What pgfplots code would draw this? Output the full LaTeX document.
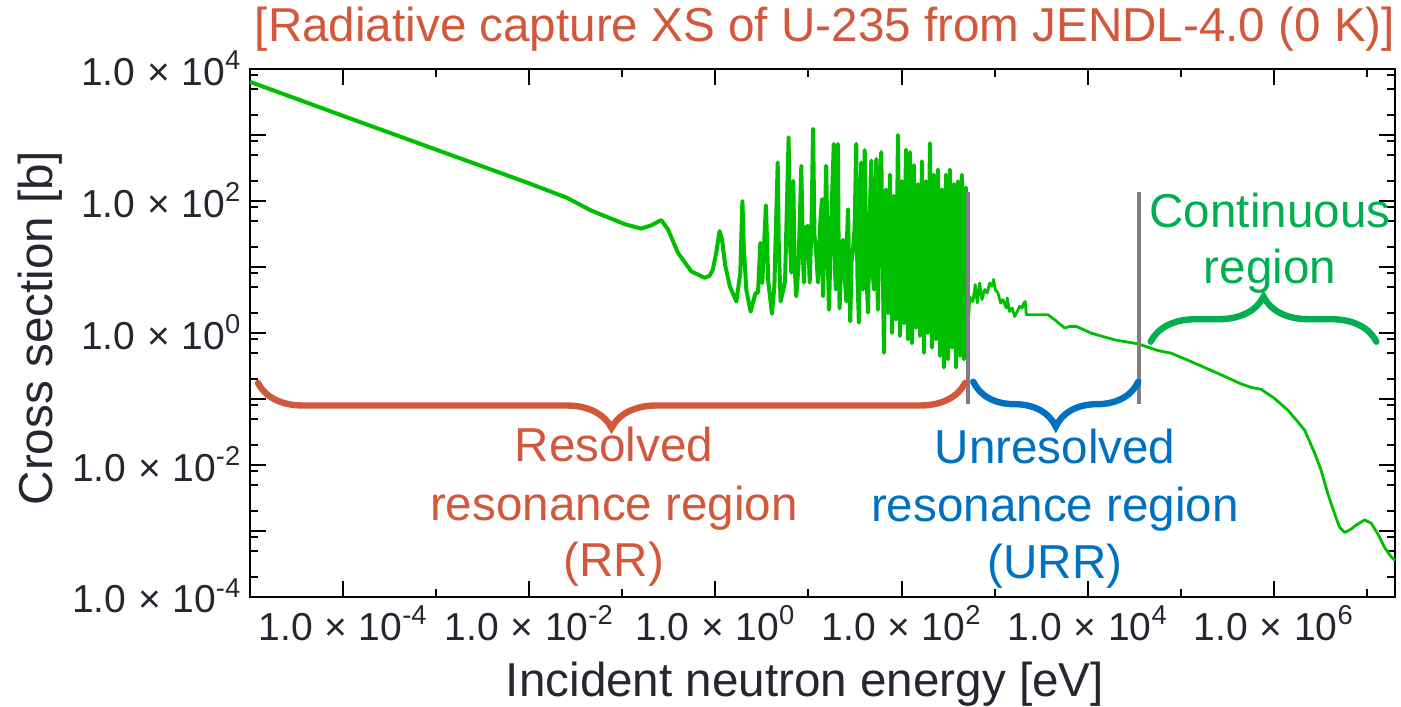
\documentclass[border=0pt]{standalone}
\usepackage{fontspec}
\setmainfont{Liberation Sans}
\usepackage{pgfplots}
\pgfplotsset{compat=1.18}
\usetikzlibrary{decorations.pathreplacing}

\definecolor{rrred}{RGB}{210,88,60}
\definecolor{urrblue}{RGB}{0,112,192}
\definecolor{contgreen}{RGB}{0,176,80}
\definecolor{xsgreen}{RGB}{0,190,0}
\definecolor{txt}{RGB}{38,38,48}

\newcommand{\lab}[1]{1.0\hspace{0.3em}×\hspace{0.3em}10\textsuperscript{#1}}
\newcommand{\bigfont}{\fontsize{23.8}{28}\selectfont}

\begin{document}
\begin{tikzpicture}
\begin{axis}[
  name=ax,
  xmode=log, ymode=log,
  scale only axis, width=572.5pt, height=264pt,
  xmin=1e-5, xmax=2e7, ymin=1e-4, ymax=1e4,
  clip=false,
  xtick={1e-4,1e-2,1,1e2,1e4,1e6},
  xticklabels={\lab{-4},\lab{-2},\lab{0},\lab{2},\lab{4},\lab{6}},
  minor xtick={1e-3,1e-1,10,1e3,1e5,1e7},
  ytick={1e-4,1e-3,1e-2,1e-1,1,10,100,1000,10000},
  yticklabels={\lab{-4},,\lab{-2},,\lab{0},,\lab{2},,\lab{4}},
  minor ytick={2e-4,5e-4,8e-4,2e-3,5e-3,8e-3,0.02,0.05,0.08,0.2,0.5,0.8,2,5,8,20,50,80,200,500,800,2000,5000,8000},
  major tick length=8pt, minor tick length=4pt,
  every tick/.style={black, line width=1pt},
  axis line style={line width=1.3pt},
  tick label style={font=\fontsize{19.5}{20}\selectfont, text=txt, inner sep=0pt},
  xticklabel style={anchor=base, yshift=-21.5pt},
  yticklabel style={anchor=base east, xshift=-4.2pt, yshift=-8pt},
  xlabel={Incident neutron energy [eV]},
  xlabel style={at={(axis description cs:0.4847,-0.1880)}, anchor=base, font=\bigfont, text=txt, inner sep=0pt},
  ylabel={Cross section [b]},
  ylabel style={at={(axis description cs:-0.1721,0.5095)}, anchor=base, font=\bigfont, text=txt, inner sep=0pt},
  title={[Radiative capture XS of U-235 from JENDL-4.0 (0 K)]},
  title style={at={(axis description cs:0.5022,1.0290)}, anchor=base, font=\bigfont, text=rrred, inner sep=0pt},
]

% resolved resonance region
\addplot[xsgreen, line width=2pt, line join=round] coordinates {
(1e-5,6400) (1e-4,1950) (1e-3,600) (1e-2,185) (0.0253,112) (0.046,72)
(0.107,44.4) (0.159,38.2) (0.205,42.8) (0.262,51.5) (0.31,37) (0.396,16.4)
(0.551,8.6) (0.767,6.85) (0.869,7.4) (0.94,9.2) (1.02,16.4) (1.11,35)
(1.18,26) (1.27,10.9) (1.43,5.1) (1.68,3.0) (1.85,8) (1.95,100) (2.02,20)
(2.15,4.5) (2.39,2.1) (2.55,3.0) (2.69,4.0) (2.87,4.1) (3.04,23.3) (3.19,5.7)
(3.49,86) (3.7,6) (4.05,1.96) (4.3,5) (4.67,385) (4.8,20) (5.02,3.0) (5.6,6)
(6.12,927) (6.3,30) (6.54,8.2) (6.87,202) (7.1,10) (7.4,3.6) (7.8,10)
(8.38,342) (8.7,15) (8.95,5.8) (9.3,40) (9.88,41.8) (10.3,5.8) (10.8,50)
(11.2,1240) (11.6,30) (12.05,18.5) (12.65,5.8) (13.3,40) (13.96,107) (14.3,3.6)
(14.9,30) (15.5,342) (16.0,20) (16.6,2.25) (17.5,40) (18.7,733) (19.2,10)
(19.7,4.55) (20.2,60) (20.7,733) (21.1,15) (21.6,2.35) (22.5,12) (23.5,26)
(24.4,8) (25.5,3.0) (26.0,30) (26.6,75) (27.3,10) (28.1,1.5) (29.0,12)
(30.1,18.5) (31.3,40) (32.6,733) (33.5,8) (34.8,1.43) (35.8,30) (36.9,385)
(37.7,20) (38.5,4.55) (39.3,100) (40.2,590) (41.7,10) (43.6,2.03) (45.3,50)
(47.3,410) (48.9,8) (50.6,4.55) (52.0,60) (53.5,433) (54.5,10) (55.7,2.25)
(58.0,120) (60.5,550)
(64.7,0.5) (68.0,150) (71.4,2.0) (75.1,250) (78.9,1.0) (82.9,120) (87.1,1.6)
(91.5,1000) (96.1,0.9) (101,200) (106.1,1.4) (111.5,600) (117.2,0.8)
(123.1,550) (129.3,0.7) (135.9,350) (142.8,1.2) (150.1,180) (157.6,0.9)
(165.6,400) (174.0,0.5) (182.9,200) (192.1,1.0) (201.9,750) (212.1,0.6)
(222.8,250) (234.2,0.8) (246.0,300) (258.5,0.45) (271.6,150) (285.4,0.3)
(299.9,250) (315.1,0.4) (331.1,300) (347.8,0.6) (365.5,180) (384.0,0.3)
(403.5,200) (424.0,0.45) (445.5,250) (468.1,0.4) (491.7,160) (505,0.6)
};

% unresolved resonance and continuous regions
\addplot[xsgreen, line width=1.4pt, line join=round] coordinates {
(505,0.6) (540,3.5) (585,3.0) (619,5.4) (650,2.85) (690,5.7) (731,3.2) (781,4.55)
(833,4.05) (883,5.7) (935,5.1) (975,6.45) (1014,4.55) (1084,4.05) (1160,2.85)
(1228,3.2) (1333,2.39) (1366,3.4) (1449,2.12) (1545,2.39) (1640,1.78)
(1750,2.12) (1857,2.53) (1965,2.39) (2065,2.85) (2132,3.0) (2186,1.89)
(3735,1.89) (4410,1.59) (5650,1.19) (6400,1.26) (7530,1.26) (10900,0.995)
(19450,0.787) (34600,0.686) (56750,0.542) (78900,0.494) (129400,0.368)
(250000,0.245) (445600,0.169) (570000,0.150) (731000,0.14) (1.016e6,0.102)
(1.41e6,0.0678) (1.81e6,0.045) (2.14e6,0.0337) (2.75e6,0.0150) (3.22e6,0.00828)
(3.80e6,0.00366) (4.49e6,0.00182) (5.08e6,0.00114) (5.79e6,0.00095)
(6.76e6,0.00107) (7.66e6,0.00123) (9.42e6,0.00147) (1.11e7,0.00131)
(1.31e7,0.0009) (1.55e7,0.00056) (1.82e7,0.000406) (2e7,0.00036)
};

% region boundaries
\addplot[gray, line width=2.15pt] coordinates {(520,135) (520,0.0835)};
\addplot[gray, line width=2.15pt] coordinates {(35700,135) (35700,0.0835)};

% braces
\draw[rrred, line width=3.2pt, line cap=round, decorate, decoration={brace, amplitude=22.5pt}]
  (rel axis cs:0.6245,0.4053) -- (rel axis cs:0.007,0.4053);
\draw[urrblue, line width=3.2pt, line cap=round, decorate, decoration={brace, amplitude=22.5pt}]
  (rel axis cs:0.7758,0.4078) -- (rel axis cs:0.6317,0.4078);
\draw[contgreen, line width=3.2pt, line cap=round, decorate, decoration={brace, amplitude=22.5pt}]
  (rel axis cs:0.7866,0.4835) -- (rel axis cs:0.9838,0.4835);

% region names
\node[anchor=base, text=rrred, font=\bigfont] at (rel axis cs:0.3179,0.2563) {Resolved};
\node[anchor=base, text=rrred, font=\bigfont] at (rel axis cs:0.3179,0.1458) {resonance region};
\node[anchor=base, text=rrred, font=\bigfont] at (rel axis cs:0.3179,0.0384) {(RR)};
\node[anchor=base, text=urrblue, font=\bigfont] at (rel axis cs:0.7031,0.2528) {Unresolved};
\node[anchor=base, text=urrblue, font=\bigfont] at (rel axis cs:0.7031,0.1430) {resonance region};
\node[anchor=base, text=urrblue, font=\bigfont] at (rel axis cs:0.7031,0.0350) {(URR)};
\node[anchor=base, text=contgreen, font=\bigfont] at (rel axis cs:0.8908,0.6989) {Continuous};
\node[anchor=base, text=contgreen, font=\bigfont] at (rel axis cs:0.8908,0.5941) {region};
\end{axis}
\pgfresetboundingbox
\path ([shift={(-125pt,-55pt)}]ax.south west) rectangle ([shift={(3pt,34.5pt)}]ax.north east);
\end{tikzpicture}
\end{document}
